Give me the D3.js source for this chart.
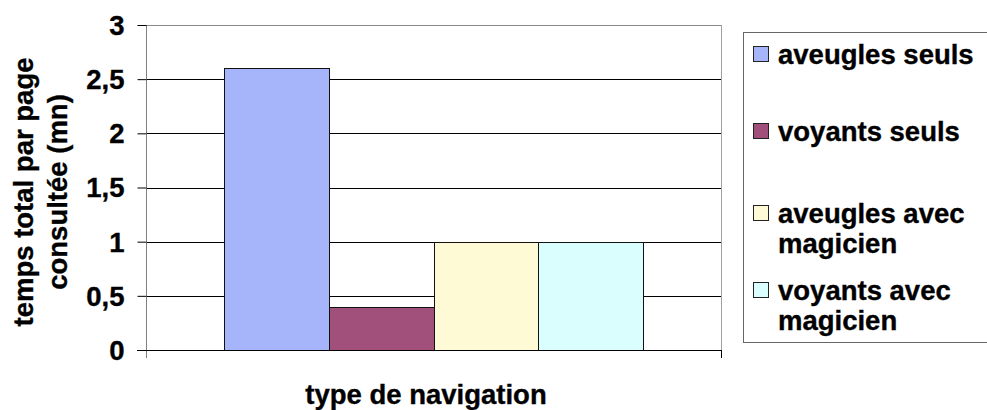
<!DOCTYPE html>
<html>
<head>
<meta charset="utf-8">
<script src="https://cdn.jsdelivr.net/npm/d3@7"></script>
<style>
  html, body { margin: 0; padding: 0; background: #fff; }
  svg { display: block; }
  text { font-family: "Liberation Sans", Arial, sans-serif; font-weight: bold; fill: #000; stroke: #000; stroke-width: 0.35px; }
</style>
</head>
<body>
<svg id="chart" width="987" height="410"></svg>
<script>
// ---- data ----
const seriesNames = ["aveugles seuls", "voyants seuls", "aveugles avec magicien", "voyants avec magicien"];
const legendLines = [["aveugles seuls"], ["voyants seuls"], ["aveugles avec", "magicien"], ["voyants avec", "magicien"]];
const seriesValues = [2.6, 0.4, 1.0, 1.0];
const seriesColors = ["#A6B4FA", "#A0507A", "#FEFAD6", "#DAFEFE"];
const yTicks = [0, 0.5, 1, 1.5, 2, 2.5, 3];
const yTickLabels = ["0", "0,5", "1", "1,5", "2", "2,5", "3"];
const yTitleLines = ["temps total par page", "consultée (mn)"];
const xTitle = "type de navigation";

// ---- layout ----
const svg = d3.select("#chart");
const plot = { left: 146, right: 721, top: 25, bottom: 350 };
const FS = 27.5;

const y = d3.scaleLinear().domain([0, 3]).range([plot.bottom, plot.top]);
const x = d3.scaleBand().domain(seriesNames).range([plot.left, plot.right])
  .paddingInner(0).paddingOuter(0.75);

// gridlines
svg.append("g").selectAll("line").data(yTicks.filter(t => t > 0 && t < 3)).join("line")
  .attr("x1", plot.left).attr("x2", plot.right)
  .attr("y1", d => Math.round(y(d)) + 0.5).attr("y2", d => Math.round(y(d)) + 0.5)
  .attr("stroke", "#000").attr("stroke-width", 1);

// plot border top/right (gray)
svg.append("line").attr("x1", plot.left).attr("x2", plot.right + 0.5)
  .attr("y1", plot.top + 0.5).attr("y2", plot.top + 0.5).attr("stroke", "#8a8a8a");
svg.append("line").attr("x1", plot.right + 0.5).attr("x2", plot.right + 0.5)
  .attr("y1", plot.top).attr("y2", plot.bottom).attr("stroke", "#a0a0a0");

// bars
svg.append("g").selectAll("rect").data(seriesNames).join("rect")
  .attr("x", d => Math.round(x(d)) + 0.5)
  .attr("y", (d, i) => Math.round(y(seriesValues[i])) + 0.5)
  .attr("width", d => Math.round(x(d) + x.bandwidth()) - Math.round(x(d)))
  .attr("height", (d, i) => Math.round(y(0)) - Math.round(y(seriesValues[i])))
  .attr("fill", (d, i) => seriesColors[i])
  .attr("stroke", "#111").attr("stroke-width", 1);

// y axis
const yAxis = d3.axisLeft(y).tickValues(yTicks)
  .tickFormat((d, i) => yTickLabels[i]).tickSize(9).tickPadding(13);
const gy = svg.append("g").attr("transform", `translate(${plot.left + 0.5},0)`).call(yAxis);
gy.select(".domain").attr("stroke", "#808080").attr("d", `M0,${plot.top}V${plot.bottom + 8}`);
gy.selectAll(".tick line").attr("stroke", "#000");
gy.selectAll(".tick text").style("font-size", FS + "px").style("font-family", "Liberation Sans, Arial, sans-serif")
  .style("font-weight", "bold").attr("fill", "#000").attr("dy", "0.34em");

// x axis baseline
svg.append("line").attr("x1", plot.left - 9).attr("x2", plot.right + 1)
  .attr("y1", plot.bottom + 0.5).attr("y2", plot.bottom + 0.5).attr("stroke", "#000");
svg.append("line").attr("x1", plot.right + 0.5).attr("x2", plot.right + 0.5)
  .attr("y1", plot.bottom).attr("y2", plot.bottom + 8).attr("stroke", "#000");

// y title
const yt = svg.append("text").attr("text-anchor", "middle")
  .attr("transform", "translate(33,192) rotate(-90)").style("font-size", FS + "px");
yTitleLines.forEach((l, i) => yt.append("tspan").attr("x", 0).attr("y", i * 34).text(l));

// x title
svg.append("text").attr("x", 426).attr("y", 404).attr("text-anchor", "middle")
  .style("font-size", FS + "px").text(xTitle);

// legend
svg.append("rect").attr("x", 743.5).attr("y", 32.5).attr("width", 260).attr("height", 310)
  .attr("fill", "#fff").attr("stroke", "#666");
const legendBaselines = [64, 141, 223, 300];
const lg = svg.append("g").selectAll("g").data(seriesNames).join("g");
lg.append("rect").attr("x", 753.5).attr("y", (d, i) => legendBaselines[i] - 17.5)
  .attr("width", 15).attr("height", 15)
  .attr("fill", (d, i) => seriesColors[i]).attr("stroke", "#222");
lg.each(function (d, i) {
  const t = d3.select(this).append("text").attr("x", 778).attr("y", legendBaselines[i])
    .style("font-size", FS + "px");
  legendLines[i].forEach((l, j) => t.append("tspan").attr("x", 778).attr("y", legendBaselines[i] + j * 30).text(l));
});
</script>
</body>
</html>
